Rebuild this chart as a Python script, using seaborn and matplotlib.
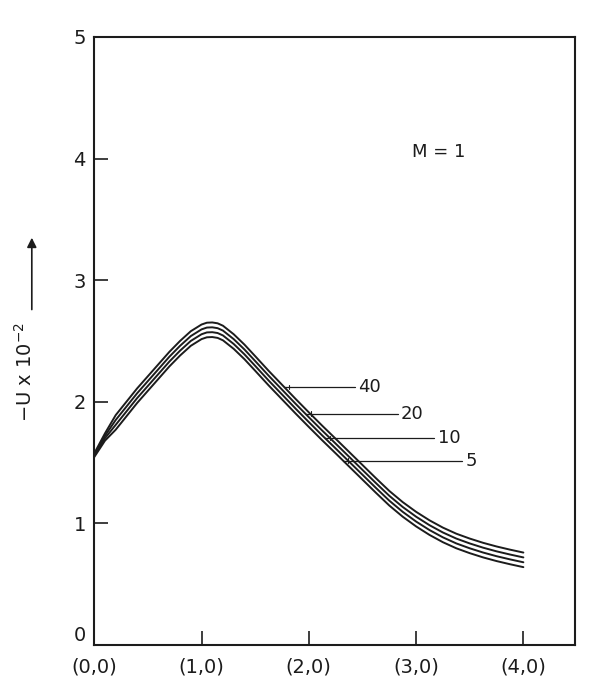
import numpy as np
import pandas as pd
import matplotlib
matplotlib.use("Agg")
import matplotlib.pyplot as plt
import seaborn as sns

# Position along the path (0,0) -> (4,0)
x_pos = [0.0, 0.1, 0.2, 0.3, 0.4, 0.5, 0.6, 0.7, 0.8, 0.9, 1.0, 1.05, 1.1, 1.15, 1.2,
         1.3, 1.4, 1.5, 1.625, 1.75, 1.875, 2.0, 2.125, 2.25, 2.375, 2.5, 2.625,
         2.75, 2.875, 3.0, 3.125, 3.25, 3.375, 3.5, 3.625, 3.75, 3.875, 4.0]

# -U x 10^-2 for each curve parameter
u_40 = [1.575, 1.74, 1.89, 2.00, 2.11, 2.21, 2.31, 2.41, 2.50, 2.58, 2.635, 2.65, 2.652,
        2.645, 2.625, 2.555, 2.47, 2.375, 2.255, 2.14, 2.025, 1.913, 1.803, 1.696, 1.588,
        1.48, 1.372, 1.267, 1.175, 1.095, 1.025, 0.965, 0.915, 0.875, 0.84, 0.81, 0.784, 0.76]
u_20 = [1.565, 1.72, 1.85, 1.96, 2.07, 2.17, 2.27, 2.37, 2.46, 2.54, 2.595, 2.61, 2.612,
        2.605, 2.585, 2.515, 2.43, 2.335, 2.215, 2.10, 1.985, 1.873, 1.763, 1.656, 1.548,
        1.44, 1.332, 1.227, 1.135, 1.055, 0.985, 0.925, 0.875, 0.835, 0.80, 0.77, 0.744, 0.72]
u_10 = [1.555, 1.70, 1.81, 1.92, 2.03, 2.13, 2.23, 2.33, 2.42, 2.50, 2.555, 2.57, 2.572,
        2.565, 2.545, 2.475, 2.39, 2.295, 2.175, 2.06, 1.945, 1.833, 1.723, 1.616, 1.508,
        1.40, 1.292, 1.187, 1.095, 1.015, 0.945, 0.885, 0.835, 0.795, 0.76, 0.73, 0.704, 0.68]
u_5 = [1.545, 1.68, 1.77, 1.88, 1.99, 2.09, 2.19, 2.29, 2.38, 2.46, 2.515, 2.53, 2.532,
       2.525, 2.505, 2.435, 2.35, 2.255, 2.135, 2.02, 1.905, 1.793, 1.683, 1.576, 1.468,
       1.36, 1.252, 1.147, 1.055, 0.975, 0.905, 0.845, 0.795, 0.755, 0.72, 0.69, 0.664, 0.64]

curve_labels = ["40", "20", "10", "5"]
# where each leader line meets its curve, and where it ends
leader_start = [1.77, 1.97, 2.15, 2.32]
leader_end = [2.43, 2.83, 3.17, 3.43]

x_ticks = [0, 1, 2, 3, 4]
x_ticklabels = ["(0,0)", "(1,0)", "(2,0)", "(3,0)", "(4,0)"]
y_ticks = [0, 1, 2, 3, 4, 5]

series = dict(zip(curve_labels, [u_40, u_20, u_10, u_5]))
df = pd.concat(
    [pd.DataFrame({"x": x_pos, "u": vals, "n": lab}) for lab, vals in series.items()],
    ignore_index=True,
)

sns.set_style("ticks")
plt.rcParams["font.family"] = ["DejaVu Sans"]
ink = "#1c1c1c"

fig = plt.figure(figsize=(5.89, 6.91), dpi=100)
ax = fig.add_axes([0.160, 0.0666, 0.816, 0.880])

sns.lineplot(data=df, x="x", y="u", hue="n", hue_order=curve_labels,
             palette=[ink] * 4, linewidth=1.4, legend=False, ax=ax,
             solid_joinstyle="round")

# leader lines and curve labels
for lab, xs, xe in zip(curve_labels, leader_start, leader_end):
    yc = np.interp(xs, x_pos, series[lab])
    ax.plot([xs, xe], [yc, yc], color=ink, linewidth=0.9)
    ax.plot([xs + 0.05, xs + 0.05], [yc - 0.02, yc + 0.02], color=ink, linewidth=0.8)
    ax.text(xe + 0.03, yc, lab, ha="left", va="center", fontsize=13, color=ink)

ax.text(3.21, 4.05, "M = 1", ha="center", va="center", fontsize=13, color=ink)

ax.set_xlim(0, 4.48)
ax.set_ylim(0, 5)
ax.set_xticks(x_ticks)
ax.set_xticklabels(x_ticklabels)
ax.set_yticks(y_ticks)
ax.tick_params(direction="in", length=10, width=1.2, color=ink,
               labelsize=14, labelcolor=ink)
ax.tick_params(axis="x", pad=9)
ax.tick_params(axis="y", pad=6)
ax.get_yticklabels()[0].set_va("bottom")
ax.set_xlabel("")
ax.set_ylabel("")
for s in ax.spines.values():
    s.set_linewidth(1.5)
    s.set_color(ink)

# y-axis title with an upward arrow
fig.text(0.042, 0.462, r"$-$U x 10$^{-2}$", rotation=90, ha="center", va="center",
         fontsize=14, color=ink)
fig.add_artist(matplotlib.patches.FancyArrowPatch(
    (0.054, 0.548), (0.054, 0.66), transform=fig.transFigure,
    arrowstyle="-|>", mutation_scale=14, color=ink, linewidth=1.2))

fig.savefig("out.png", dpi=100, facecolor="white")
